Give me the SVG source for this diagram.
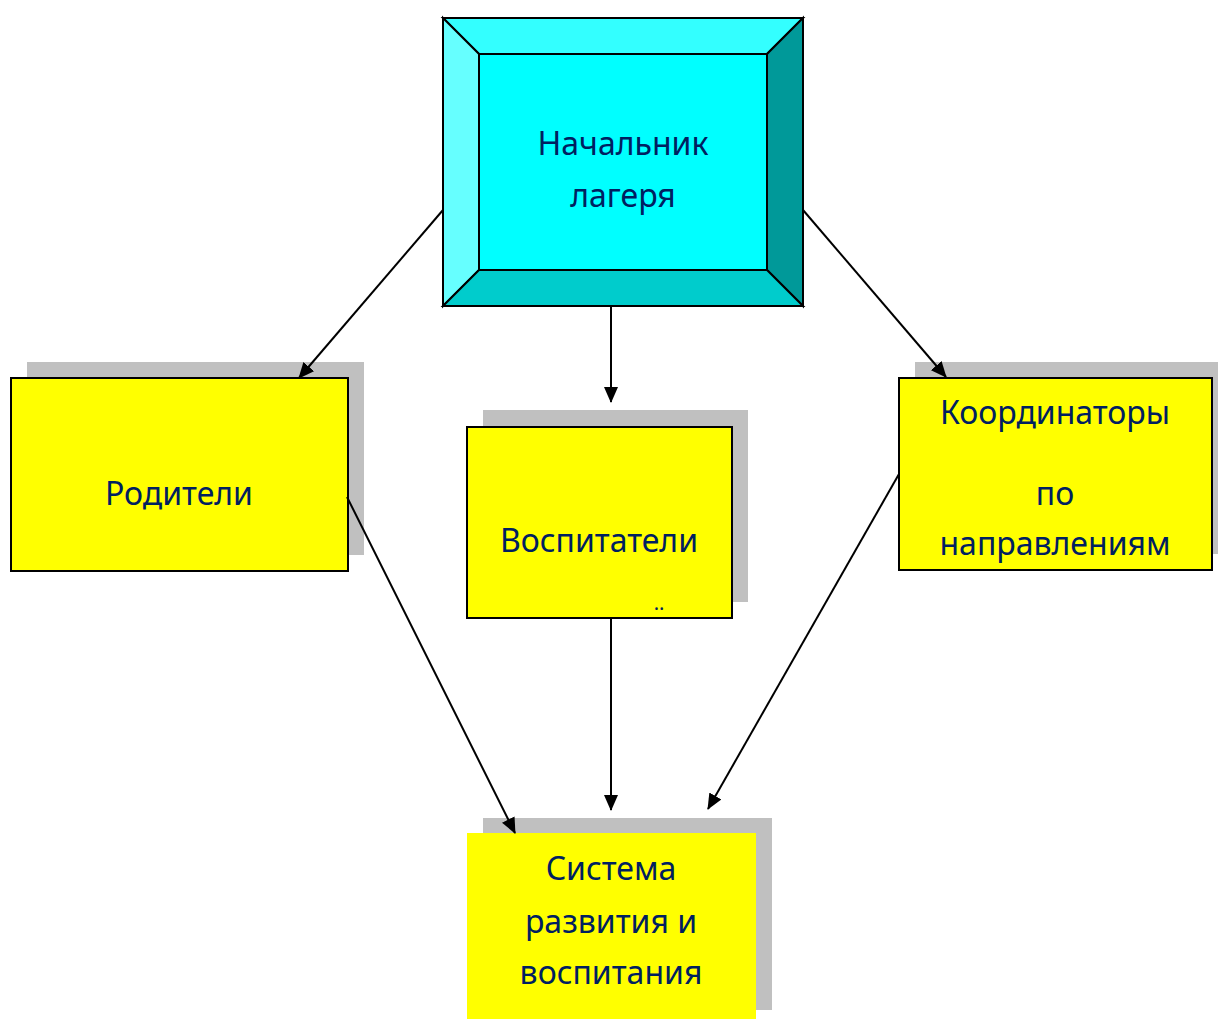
<svg xmlns="http://www.w3.org/2000/svg" width="1218" height="1019" viewBox="0 0 1218 1019">
  <style>
    .lbl { font-family: "Noto Sans", "Open Sans", sans-serif; font-size: 32px; fill: #002060; text-anchor: middle; }
    .box { fill: #FFFF00; stroke: #000; stroke-width: 2; }
    .shadow { fill: #C0C0C0; }
    .bev { stroke: #000; stroke-width: 2; stroke-linejoin: miter; }
    .conn { stroke: #000; stroke-width: 2; fill: none; marker-end: url(#arr); }
  </style>
  <defs>
    <marker id="arr" markerUnits="userSpaceOnUse" markerWidth="16" markerHeight="14" refX="15" refY="7" orient="auto">
      <path d="M0,0 L16,7 L0,14 Z" fill="#000"/>
    </marker>
  </defs>
  <rect width="1218" height="1019" fill="#fff"/>

  <g id="node-head">
    <polygon class="bev" points="443,18 803,18 767,54 479,54" fill="#33FFFF"/>
    <polygon class="bev" points="443,18 479,54 479,270 443,306" fill="#66FFFF"/>
    <polygon class="bev" points="803,18 803,306 767,270 767,54" fill="#009999"/>
    <polygon class="bev" points="443,306 479,270 767,270 803,306" fill="#00CCCC"/>
    <rect class="bev" x="479" y="54" width="288" height="216" fill="#00FFFF"/>
    <rect x="443" y="18" width="360" height="288" fill="none" stroke="#000" stroke-width="2"/>
    <text class="lbl" x="623" y="155">Начальник</text>
    <text class="lbl" x="623" y="207">лагеря</text>
  </g>

  <g id="node-parents">
    <rect class="shadow" x="27" y="362" width="337" height="193"/>
    <rect class="box" x="11" y="378" width="337" height="193"/>
    <text class="lbl" x="179" y="505">Родители</text>
  </g>

  <g id="node-educators">
    <rect class="shadow" x="483" y="410" width="265" height="192"/>
    <rect class="box" x="467" y="427" width="265" height="191"/>
    <text class="lbl" x="599" y="552">Воспитатели</text>
    <text x="659" y="610" font-family="Noto Sans, sans-serif" font-size="20" fill="#002060" text-anchor="middle">..</text>
  </g>

  <g id="node-coordinators">
    <rect class="shadow" x="915" y="362" width="303" height="192"/>
    <rect class="box" x="899" y="378" width="313" height="192"/>
    <text class="lbl" x="1055" y="424">Координаторы</text>
    <text class="lbl" x="1055" y="505">по</text>
    <text class="lbl" x="1055" y="555">направлениям</text>
  </g>

  <g id="node-system">
    <rect class="shadow" x="483" y="818" width="289" height="192"/>
    <rect x="467" y="833" width="289" height="190" fill="#FFFF00"/>
    <text class="lbl" x="611" y="880">Система</text>
    <text class="lbl" x="611" y="933">развития и</text>
    <text class="lbl" x="611" y="984">воспитания</text>
  </g>

  <g id="connectors">
    <line class="conn" x1="443" y1="210" x2="299" y2="378"/>
    <line class="conn" x1="611" y1="306" x2="611" y2="402"/>
    <line class="conn" x1="803" y1="210" x2="946" y2="377"/>
    <line class="conn" x1="347" y1="497" x2="515" y2="833"/>
    <line class="conn" x1="611" y1="618" x2="611" y2="810"/>
    <line class="conn" x1="899" y1="474" x2="708" y2="809"/>
  </g>
</svg>
